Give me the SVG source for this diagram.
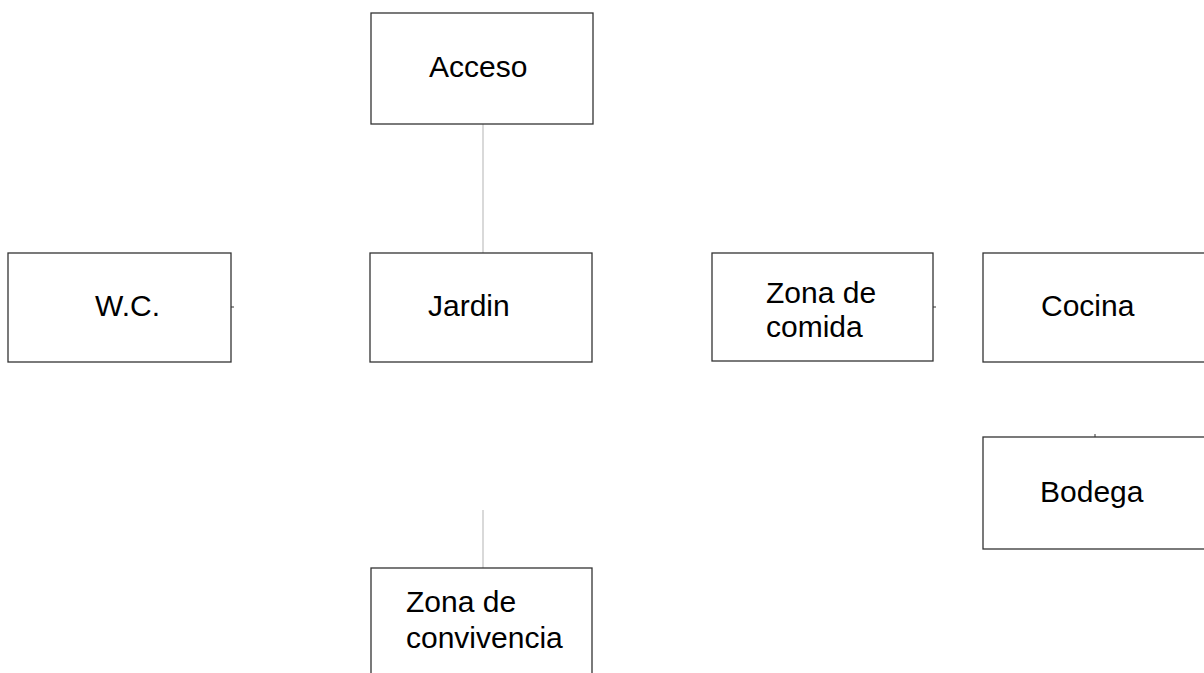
<svg xmlns="http://www.w3.org/2000/svg" width="1204" height="673" viewBox="0 0 1204 673">
<style>
.box{fill:#fff;stroke:#333;stroke-width:1.3}
.lbl{font-family:"Liberation Sans",Arial,sans-serif;font-size:30px;fill:#000}
.conn{stroke:#cccccc;stroke-width:1.5;fill:none}
.stub{stroke:#333;stroke-width:1;fill:none}
</style>
<rect x="0" y="0" width="1204" height="673" fill="#fff"/>
<g id="connectors">
<line class="conn" x1="483" y1="124" x2="483" y2="253"/>
<line class="conn" x1="483" y1="510" x2="483" y2="568"/>
<line class="stub" x1="231" y1="307" x2="234" y2="307"/>
<line class="stub" x1="933" y1="307" x2="936" y2="307"/>
<line class="stub" x1="1095" y1="434" x2="1095" y2="437"/>
</g>
<g id="acceso">
<rect class="box" x="371" y="13" width="222" height="111"/>
<text class="lbl" x="429" y="77">Acceso</text>
</g>
<g id="wc">
<rect class="box" x="8" y="253" width="223" height="109"/>
<text class="lbl" x="95" y="316">W.C.</text>
</g>
<g id="jardin">
<rect class="box" x="370" y="253" width="222" height="109"/>
<text class="lbl" x="428" y="316">Jardin</text>
</g>
<g id="zona-comida">
<rect class="box" x="712" y="253" width="221" height="108"/>
<text class="lbl" x="766" y="303">Zona de</text>
<text class="lbl" x="766" y="337">comida</text>
</g>
<g id="cocina">
<rect class="box" x="983" y="253" width="230" height="109"/>
<text class="lbl" x="1041" y="316">Cocina</text>
</g>
<g id="bodega">
<rect class="box" x="983" y="437" width="230" height="112"/>
<text class="lbl" x="1040" y="502">Bodega</text>
</g>
<g id="zona-convivencia">
<rect class="box" x="371" y="568" width="221" height="120"/>
<text class="lbl" x="406" y="612">Zona de</text>
<text class="lbl" x="406" y="648">convivencia</text>
</g>
</svg>
